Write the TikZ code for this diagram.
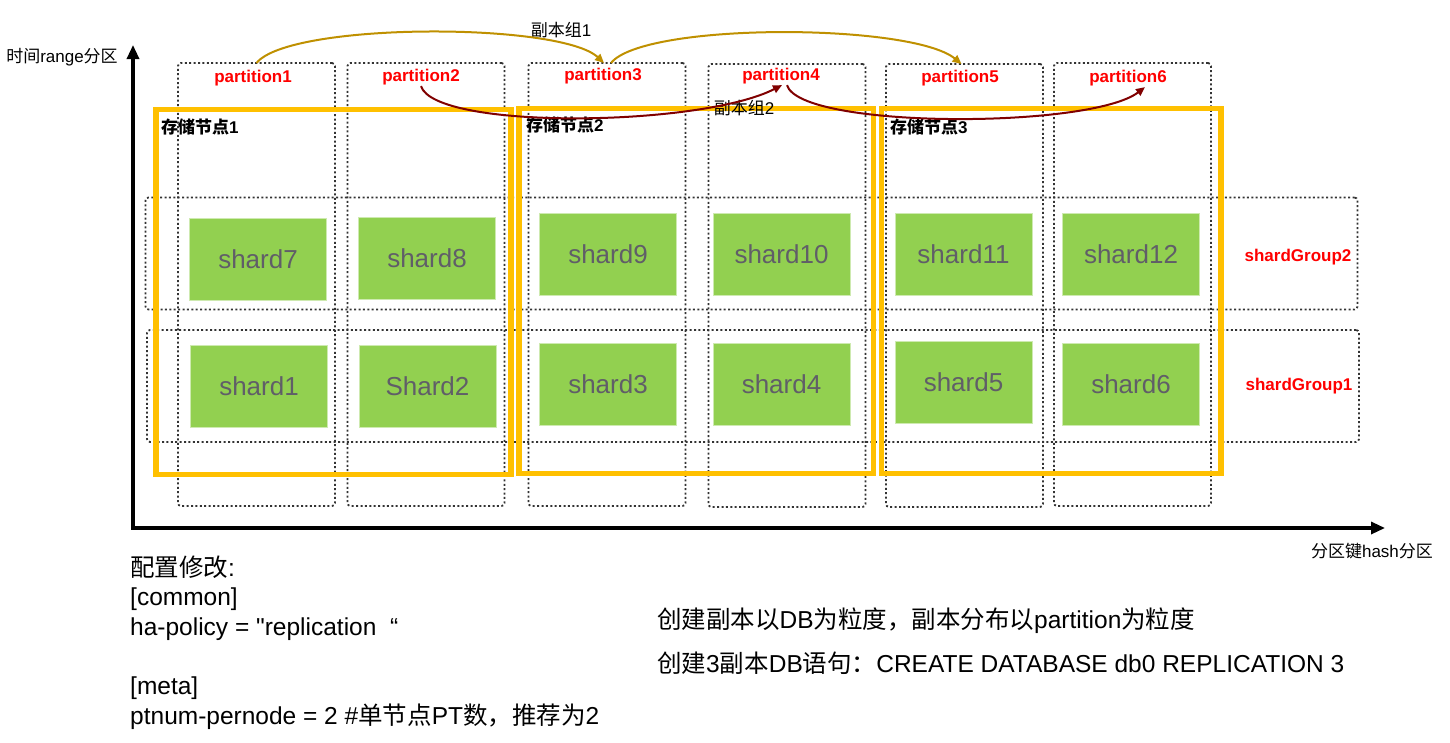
\documentclass[tikz,border=0pt]{standalone}
\usepackage{fontspec}
\setmainfont{Liberation Sans}
\newfontfamily\zh{Noto Sans CJK SC}
\newfontfamily\rawfont{Liberation Sans}
\usetikzlibrary{arrows.meta}
\definecolor{shardgreen}{RGB}{146,208,80}
\definecolor{shardtext}{RGB}{96,94,104}
\definecolor{storeorange}{RGB}{255,192,0}
\definecolor{arcgold}{RGB}{191,144,0}
\definecolor{arcred}{RGB}{128,0,0}
\newcommand\lblfont{\fontsize{17}{20}\selectfont}
\newcommand\shardfont{\fontsize{26}{30}\selectfont}
\newcommand\notefont{\fontsize{24.5}{29.6}\selectfont}
\begin{document}
\begin{tikzpicture}[x=1pt,y=-1pt,
        col/.style={draw=black!80,line width=1.8pt,dash pattern=on 2pt off 2.4pt,rounded corners=3pt,minimum width=157pt,minimum height=443pt,outer sep=0pt},
        grp/.style={draw=black!80,line width=1.8pt,dash pattern=on 2pt off 2.4pt,rounded corners=3pt,minimum width=1212pt,minimum height=112pt,outer sep=0pt},
        shard/.style={fill=shardgreen,draw=shardgreen!45!white,line width=1pt,text=shardtext,font=\shardfont,minimum width=137pt,minimum height=82pt,inner sep=0pt},
        store/.style={draw=storeorange,line width=5.5pt,minimum height=365pt,outer sep=0pt},
        ptlabel/.style={text=red,font=\bfseries\lblfont,inner sep=1pt},
        stlabel/.style={font=\bfseries\lblfont,anchor=west,inner sep=0pt},
        plain/.style={font=\lblfont,inner sep=0pt},
        axisline/.style={line width=3.2pt,{Triangle[width=12pt,length=14pt]}-{Triangle[width=12pt,length=14pt]}},
        goldarc/.style={draw=arcgold,line width=2pt,-{Triangle[width=8pt,length=9pt]}},
        redarc/.style={draw=arcred,line width=2pt,-{Triangle[width=8pt,length=9pt]}}]
        \useasboundingbox (0,0) rectangle (1450,742);

        \node[col] (col1) at (256.5,284.5) {};
        \node[col] (col2) at (426,284.5) {};
        \node[col] (col3) at (607,284.5) {};
        \node[col] (col4) at (787,285.5) {};
        \node[col] (col5) at (964.5,285.5) {};
        \node[col] (col6) at (1132.5,284.5) {};

        \node[grp] (grp2) at (751.5,253.5) {};
        \node[grp] (grp1) at (753,386) {};

        \node[shard] (s7) at (258,259.5) {shard7};
        \node[shard] (s8) at (427,258) {shard8};
        \node[shard] (s9) at (608,254) {shard9};
        \node[shard] (s10) at (781.5,254) {shard10};
        \node[shard] (s11) at (963.5,254) {shard11};
        \node[shard] (s12) at (1131,254) {shard12};
        \node[shard] (s1) at (259,386) {shard1};
        \node[shard] (s2) at (427.5,386) {Shard2};
        \node[shard] (s3) at (608,384) {shard3};
        \node[shard] (s4) at (781.5,384) {shard4};
        \node[shard] (s5) at (963.5,382) {shard5};
        \node[shard] (s6) at (1131,384) {shard6};

        \node[store,minimum width=355pt] (st1) at (333.5,292) {};
        \node[store,minimum width=354.5pt] (st2) at (696.25,291) {};
        \node[store,minimum width=339.5pt] (st3) at (1051.25,291) {};

        \node[stlabel] (stl1) at (161,127) {{\zh 存储节点}1};
        \node[stlabel] (stl2) at (526,125) {{\zh 存储节点}2};
        \node[stlabel] (stl3) at (890,127) {{\zh 存储节点}3};

        \node[ptlabel] (part1) at (253,78) {partition1};
        \node[ptlabel] (part2) at (421,77) {partition2};
        \node[ptlabel] (part3) at (603,76) {partition3};
        \node[ptlabel] (part4) at (781,76) {partition4};
        \node[ptlabel] (part5) at (960,78) {partition5};
        \node[ptlabel] (part6) at (1128,78) {partition6};

        \node[ptlabel] (gl2) at (1298,257) {shardGroup2};
        \node[ptlabel] (gl1) at (1299,386) {shardGroup1};

        \node[plain] (rep1) at (561,30) {{\zh 副本组}1};
        \node[plain] (rep2) at (744,108) {{\zh 副本组}2};

        \coordinate (o) at (133,528);
        \coordinate (ytop) at (133,45);
        \coordinate (xend) at (1385,528);
        \draw[axisline] (ytop) -- (o) -- (xend);
        \node[plain] (ylab) at (62,57) {{\zh 时间}range{\zh 分区}};
        \node[plain] (xlab) at (1372,551) {{\zh 分区键}hash{\zh 分区}};

        \draw[goldarc] (col1.north) .. controls +(33,-41) and +(-44,-41) .. ([xshift=-3pt]col3.north);
        \draw[goldarc] ([xshift=4pt]col3.north) .. controls +(33,-41) and +(-50,-41) .. ([xshift=-3pt]col5.north);
        \draw[redarc] (part2.south) .. controls +(14,44) and +(-82,42) .. ([xshift=1pt]part4.south);
        \draw[redarc] ([xshift=6pt]part4.south) .. controls +(13,44) and +(-55,42) .. ([xshift=17pt]part6.south);

        \node[font=\notefont,anchor=base west,align=left,inner sep=0pt] (conf) at (130,724) {{\zh 配置修改}:\\ {[common]}\\ ha-policy = {\rawfont "}replication\ \ “\\ \mbox{}\\ {[meta]}\\ ptnum-pernode = 2 \#{\zh 单节点}PT{\zh 数，推荐为}2};
        \node[font=\notefont,anchor=base west,inner sep=0pt] (note1) at (657,628) {{\zh 创建副本以}DB{\zh 为粒度，副本分布以}partition{\zh 为粒度}};
        \node[font=\notefont,anchor=base west,inner sep=0pt] (note2) at (657,672) {{\zh 创建}3{\zh 副本}DB{\zh 语句：}CREATE DATABASE db0 REPLICATION 3};
    \end{tikzpicture}
\end{document}
